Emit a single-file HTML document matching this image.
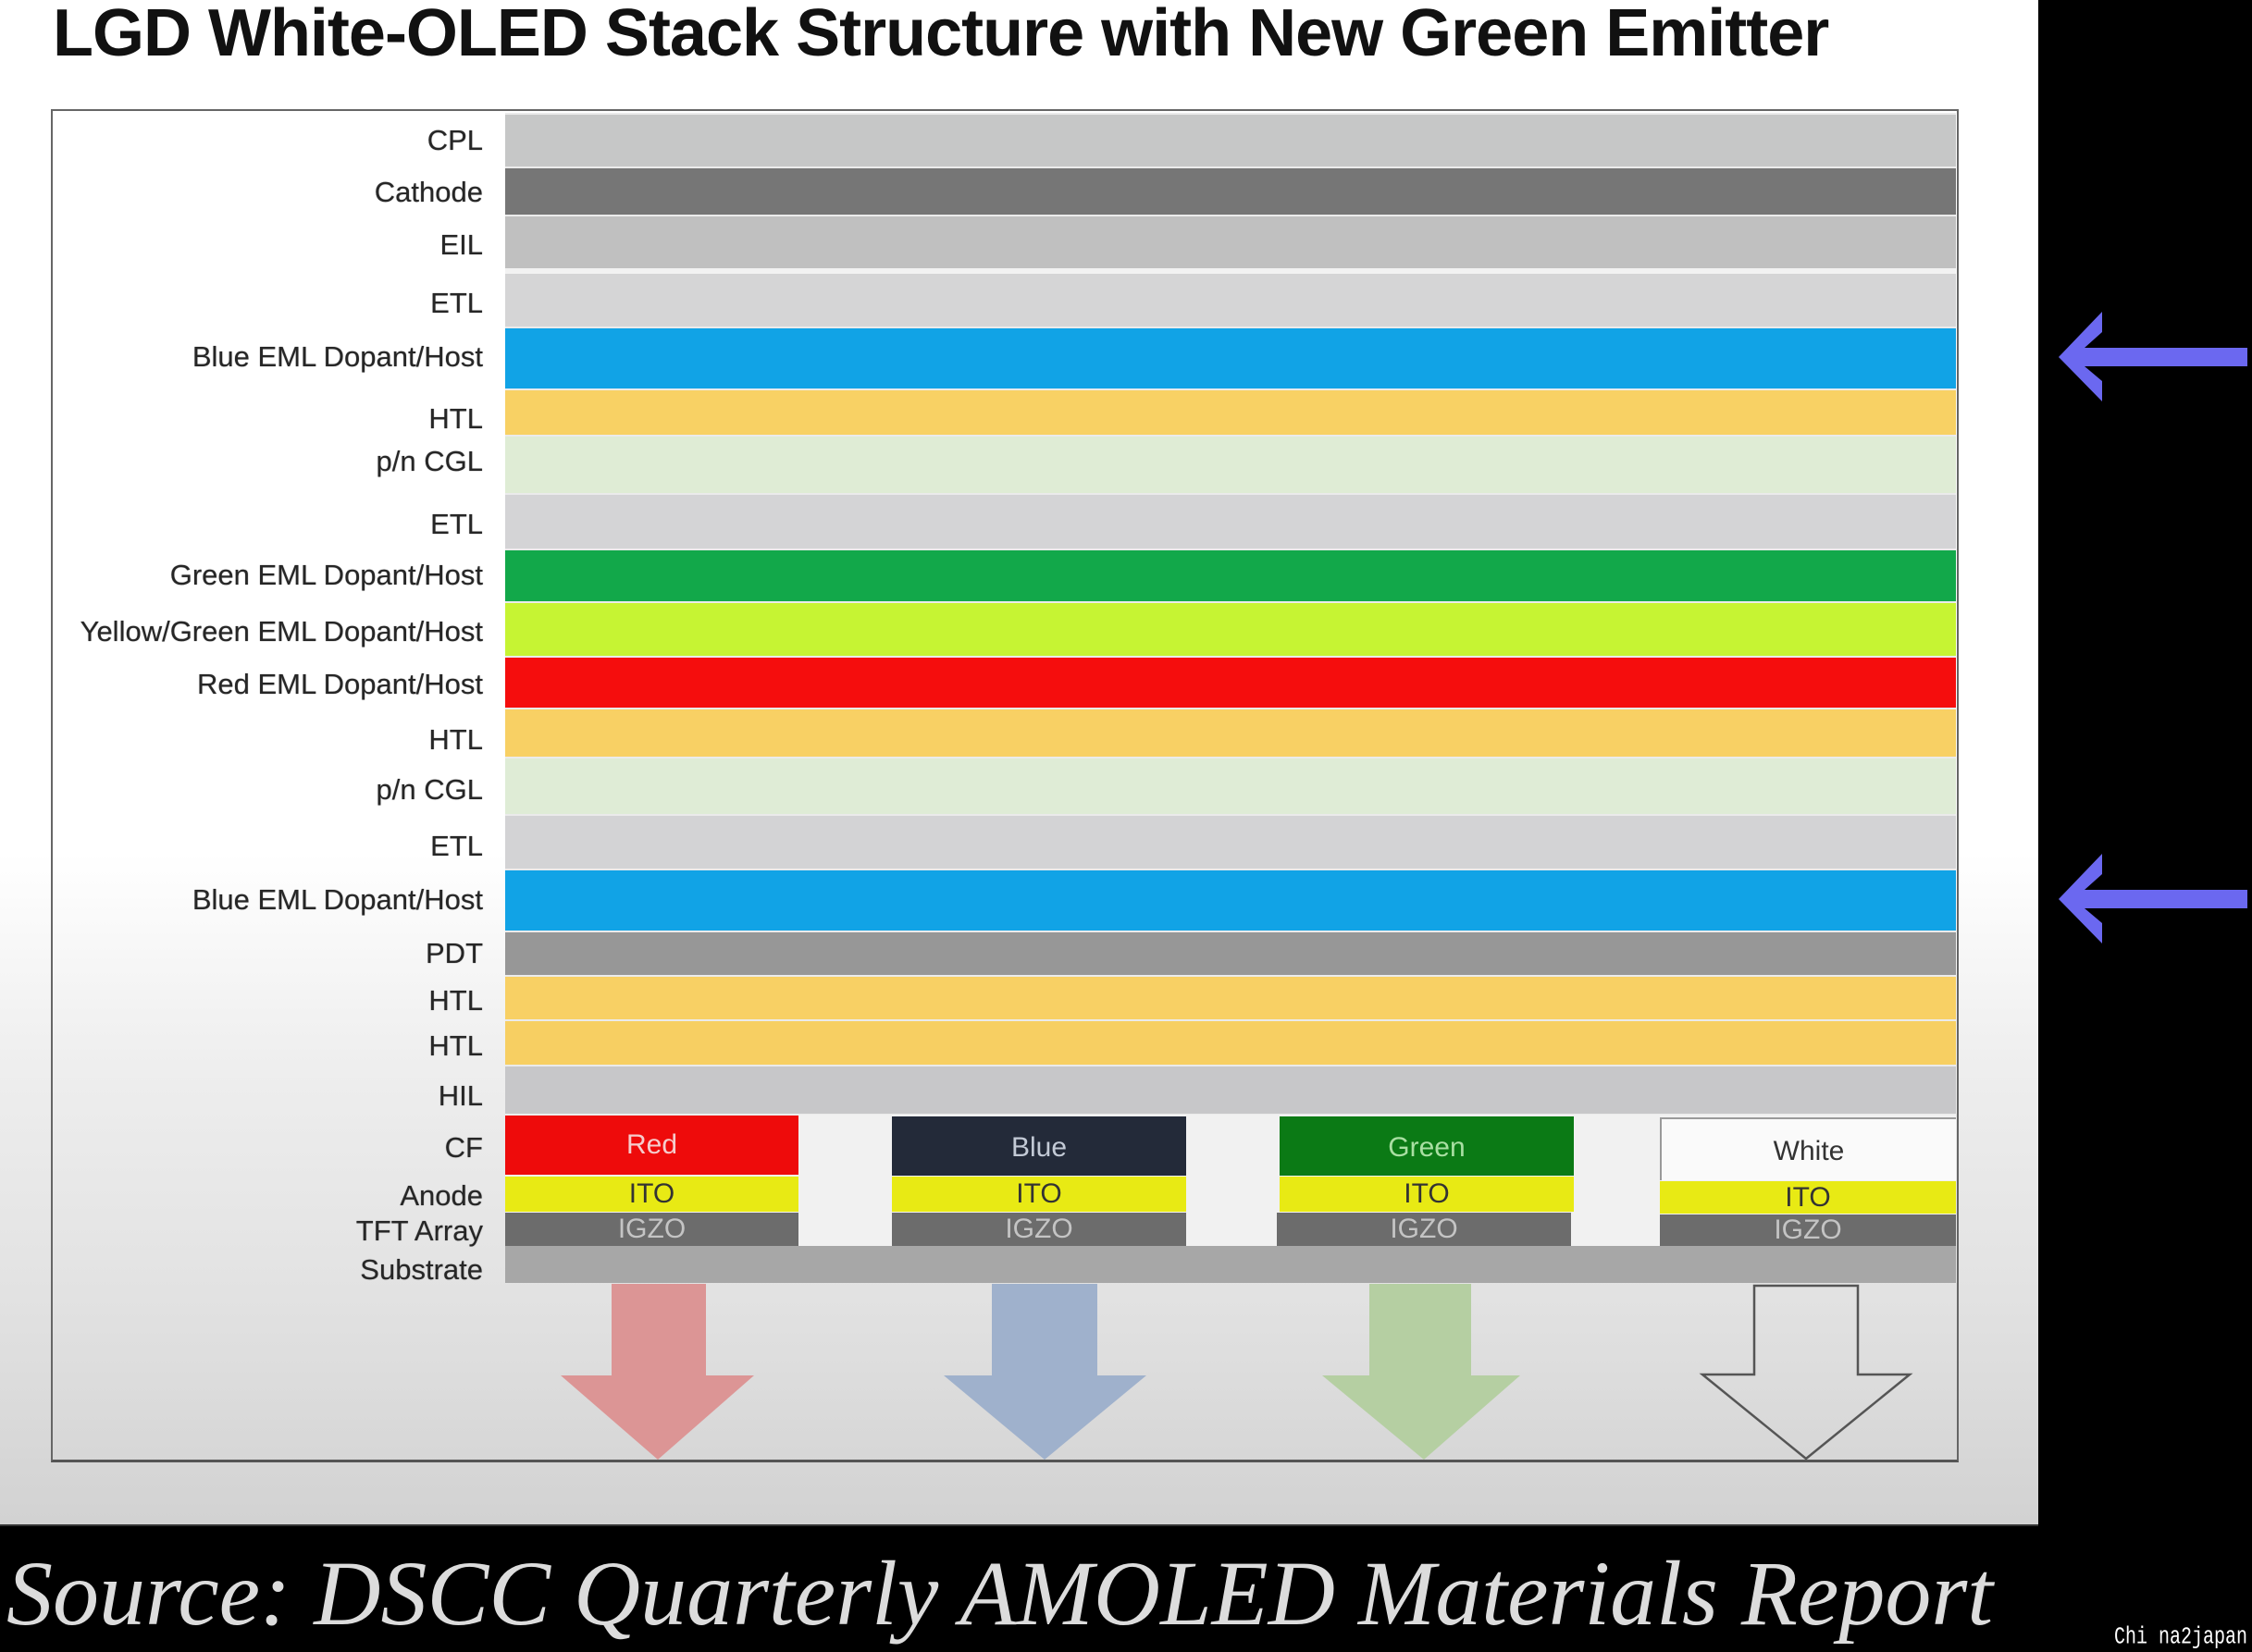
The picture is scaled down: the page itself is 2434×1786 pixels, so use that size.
<!DOCTYPE html>
<html><head><meta charset="utf-8">
<style>
html,body{margin:0;padding:0;background:#000;}
body{width:2434px;height:1786px;position:relative;overflow:hidden;font-family:"Liberation Sans",Arial,sans-serif;}
.slide{position:absolute;left:0;top:0;width:2203px;height:1650px;
 background:linear-gradient(to bottom,#ffffff 0%,#ffffff 56%,#eeeeee 70%,#e2e2e2 85%,#d2d2d2 100%);
 border-bottom:2px solid #333;box-sizing:border-box;}
.title{position:absolute;left:57px;top:0;font-size:72px;line-height:72px;font-weight:bold;letter-spacing:-1px;color:#111;white-space:nowrap;}
.box{position:absolute;left:55px;top:118px;width:2062px;height:1463px;border:2px solid #666;border-bottom:3px solid #555;box-sizing:border-box;}
.bandbg{position:absolute;left:546px;top:122px;width:1568px;height:1084px;background:#ebebeb;}
.b{position:absolute;left:546px;width:1568px;}
.lbl{position:absolute;left:0;width:522px;text-align:right;font-size:31px;line-height:36px;color:#262626;white-space:nowrap;text-shadow:0 0 1px #666;}
.blk{position:absolute;text-align:center;font-size:30px;white-space:nowrap;}
.gap{position:absolute;background:#f1f1f1;}
.caption{position:absolute;left:7px;top:1673px;font-family:"Liberation Serif",serif;font-style:italic;font-size:100px;line-height:100px;color:#dcdcdc;white-space:nowrap;}
.wm{position:absolute;left:2285px;top:1763px;font-family:"Liberation Mono",monospace;font-size:20px;line-height:20px;color:#fff;white-space:nowrap;transform:scaleY(1.3);transform-origin:0 15px;}
</style></head>
<body>
<div class="slide">
  <div class="title">LGD White-OLED Stack Structure with New Green Emitter</div>
</div>

<div class="bandbg"></div>
<!-- bands -->
<div class="b" style="top:124px;height:56px;background:#c6c7c7;"></div>
<div class="b" style="top:182px;height:50px;background:#767676;"></div>
<div class="b" style="top:234px;height:56px;background:#c0c0c0;"></div>
<div class="b" style="top:290px;height:6px;background:#f2f2f2;"></div>
<div class="b" style="top:296px;height:57px;background:#d5d5d6;"></div>
<div class="b" style="top:355px;height:65px;background:#11a3e6;"></div>
<div class="b" style="top:422px;height:48px;background:#f8d164;"></div>
<div class="b" style="top:472px;height:61px;background:#dfecd5;"></div>
<div class="b" style="top:535px;height:58px;background:#d4d4d6;"></div>
<div class="b" style="top:595px;height:55px;background:#12a84a;"></div>
<div class="b" style="top:652px;height:57px;background:#c6f433;"></div>
<div class="b" style="top:711px;height:54px;background:#f50d0d;"></div>
<div class="b" style="top:767px;height:51px;background:#f8d064;"></div>
<div class="b" style="top:820px;height:60px;background:#dfecd6;"></div>
<div class="b" style="top:882px;height:57px;background:#d3d3d5;"></div>
<div class="b" style="top:941px;height:65px;background:#11a3e6;"></div>
<div class="b" style="top:1008px;height:46px;background:#979797;"></div>
<div class="b" style="top:1056px;height:46px;background:#f8d064;"></div>
<div class="b" style="top:1104px;height:47px;background:#f7cf62;"></div>
<div class="b" style="top:1153px;height:51px;background:#c7c7c9;"></div>

<!-- CF / anode / TFT region -->
<div class="gap" style="left:546px;top:1205px;width:1568px;height:142px;"></div>
<!-- Red -->
<div class="blk" style="left:546px;top:1206px;width:317px;height:64px;line-height:64px;background:#ee0b0b;color:#f5cccc;">Red</div>
<div class="blk" style="left:546px;top:1272px;width:317px;height:38px;line-height:38px;background:#e8ea14;color:#333;">ITO</div>
<div class="blk" style="left:546px;top:1311px;width:317px;height:36px;line-height:36px;background:#6c6c6c;color:#c4c4c4;">IGZO</div>
<!-- Blue -->
<div class="blk" style="left:964px;top:1207px;width:318px;height:64px;line-height:68px;background:#232a39;color:#c3cad6;">Blue</div>
<div class="blk" style="left:964px;top:1272px;width:318px;height:38px;line-height:38px;background:#e8ea14;color:#333;">ITO</div>
<div class="blk" style="left:964px;top:1311px;width:318px;height:36px;line-height:36px;background:#6c6c6c;color:#c4c4c4;">IGZO</div>
<!-- Green -->
<div class="blk" style="left:1383px;top:1207px;width:318px;height:64px;line-height:68px;background:#0b7a15;color:#a9dfa2;">Green</div>
<div class="blk" style="left:1383px;top:1272px;width:318px;height:38px;line-height:38px;background:#e8ea14;color:#333;">ITO</div>
<div class="blk" style="left:1380px;top:1311px;width:318px;height:36px;line-height:36px;background:#6c6c6c;color:#c4c4c4;">IGZO</div>
<!-- White -->
<div class="blk" style="left:1794px;top:1208px;width:320px;height:68px;line-height:70px;background:#fafafa;color:#333;border:2px solid #9a9a9a;border-right:none;border-bottom:none;box-sizing:border-box;">White</div>
<div class="blk" style="left:1794px;top:1277px;width:320px;height:35px;line-height:35px;background:#e8ea14;color:#333;">ITO</div>
<div class="blk" style="left:1794px;top:1313px;width:320px;height:34px;line-height:34px;background:#6c6c6c;color:#c4c4c4;">IGZO</div>
<!-- Substrate -->
<div class="b" style="top:1347px;height:40px;background:#a7a7a7;"></div>

<!-- labels -->
<div class="lbl" style="top:134px;">CPL</div>
<div class="lbl" style="top:190px;">Cathode</div>
<div class="lbl" style="top:247px;">EIL</div>
<div class="lbl" style="top:310px;">ETL</div>
<div class="lbl" style="top:368px;">Blue EML Dopant/Host</div>
<div class="lbl" style="top:435px;">HTL</div>
<div class="lbl" style="top:481px;">p/n CGL</div>
<div class="lbl" style="top:549px;">ETL</div>
<div class="lbl" style="top:604px;">Green EML Dopant/Host</div>
<div class="lbl" style="top:665px;">Yellow/Green EML Dopant/Host</div>
<div class="lbl" style="top:722px;">Red EML Dopant/Host</div>
<div class="lbl" style="top:782px;">HTL</div>
<div class="lbl" style="top:836px;">p/n CGL</div>
<div class="lbl" style="top:897px;">ETL</div>
<div class="lbl" style="top:955px;">Blue EML Dopant/Host</div>
<div class="lbl" style="top:1013px;">PDT</div>
<div class="lbl" style="top:1064px;">HTL</div>
<div class="lbl" style="top:1113px;">HTL</div>
<div class="lbl" style="top:1167px;">HIL</div>
<div class="lbl" style="top:1223px;">CF</div>
<div class="lbl" style="top:1275px;">Anode</div>
<div class="lbl" style="top:1313px;">TFT Array</div>
<div class="lbl" style="top:1355px;">Substrate</div>

<div class="box"></div>

<svg width="2434" height="1786" style="position:absolute;left:0;top:0;" xmlns="http://www.w3.org/2000/svg">
  <!-- down arrows -->
  <polygon points="661,1388 763,1388 763,1487 815,1487 711,1578 606,1487 661,1487" fill="#dc9595"/>
  <polygon points="1072,1388 1186,1388 1186,1487 1239,1487 1129,1578 1020,1487 1072,1487" fill="#9fb1cc"/>
  <polygon points="1480,1388 1590,1388 1590,1487 1643,1487 1539,1578 1429,1487 1480,1487" fill="#b5cfa2"/>
  <polygon points="1896,1390 2008,1390 2008,1486 2064,1486 1952,1577 1840,1486 1896,1486" fill="none" stroke="#555" stroke-width="2.5"/>
  <!-- side arrows -->
  <polygon points="2225,386 2272,337 2272,359 2253,376 2429,376 2429,396 2253,396 2272,412 2272,434" fill="#6b68f0"/>
  <polygon points="2225,972 2272,923 2272,945 2253,962 2429,962 2429,982 2253,982 2272,998 2272,1020" fill="#6b68f0"/>
</svg>

<div class="caption">Source: DSCC Quarterly AMOLED Materials Report</div>
<div class="wm">Chi na2japan</div>
</body></html>
